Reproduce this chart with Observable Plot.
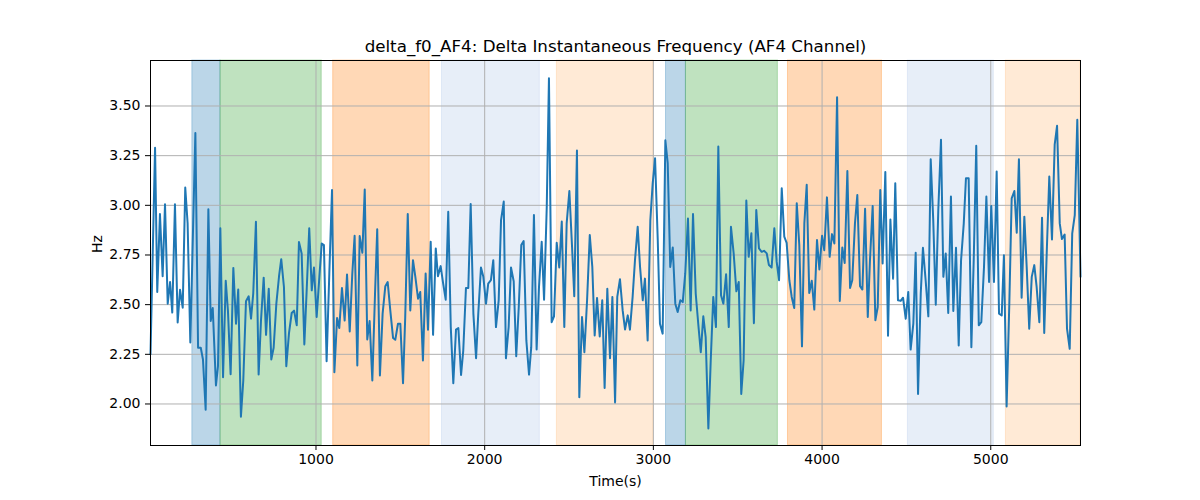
<!DOCTYPE html>
<html>
<head>
<meta charset="utf-8">
<script src="https://cdn.jsdelivr.net/npm/d3@7"></script>
<script src="https://cdn.jsdelivr.net/npm/@observablehq/plot@0.6"></script>
<style>
  html, body { margin: 0; padding: 0; background: white; overflow: hidden; }
  #chart svg { display: block; }
</style>
</head>
<body>
<div id="chart"></div>
<script>
const titleText = "delta_f0_AF4: Delta Instantaneous Frequency (AF4 Channel)";
const xLabel = "Time(s)";
const yLabel = "Hz";
const xTicks = [1000, 2000, 3000, 4000, 5000];
const yTicks = [2.00, 2.25, 2.50, 2.75, 3.00, 3.25, 3.50];

const time = [
  19,46,59,75,91,105,121,135,148,164,180,194,210,225,239,255,285,301,317,330,346,362,376,388,407,419,433,449,465,478,494,510,526,539,555,569,585,601,615,628,644,660,674,690,704,720,735,749,765,781,794,810,824,840,856,870,886,899,915,931,945,960,
  975,988,1004,1020,1034,1047,1063,1079,1095,1109,1125,1138,1154,1170,1184,1200,1215,1229,1245,1259,1275,1289,1304,1318,1334,1350,1363,1379,1395,1411,1425,1440,1457,1470,1486,1500,1516,1529,1544,1559,1575,1589,1605,1618,1634,1650,1664,1680,1694,1710,1723,1739,1753,1769,1784,1799,1814,1830,1844,1860,1873,1889,1903,
  1917,1933,1949,1962,1978,1992,2008,2021,2037,2051,2067,2083,2097,2113,2126,2142,2156,2172,2187,2202,2217,2231,2247,2263,2276,2292,2308,2322,2338,2352,2368,2381,2397,2411,2427,2442,2457,2472,2486,2502,2518,2531,2547,2561,2577,2591,2607,2623,2638,2652,2666,2682,2697,2711,2727,2743,2757,2773,2786,2802,2818,2832,2848,2861,
  2877,2891,2907,2921,2937,2950,2966,2982,2996,3010,3026,3039,3055,3071,3085,3100,3115,3130,3144,3160,3174,3189,3205,3221,3235,3251,3266,3281,3296,3310,3326,3340,3355,3371,3385,3401,3415,3431,3447,3460,3476,3492,3506,3521,3535,3551,3565,3581,3596,3610,3626,3642,3656,3672,3685,3701,3717,3731,3745,3761,3776,3790,
  3806,3820,3835,3850,3865,3881,3895,3909,3924,3939,3954,3970,3984,4000,4013,4029,4045,4059,4073,4089,4105,4120,4134,4150,4166,4179,4195,4209,4225,4239,4255,4271,4284,4300,4316,4330,4345,4359,4375,4391,4405,4421,4434,4450,4466,4480,4496,4511,4525,4541,4555,4569,4585,4598,4614,4630,4644,4659,4674,4689,4705,4719,4733,4748,
  4764,4778,4794,4810,4824,4840,4853,4869,4885,4899,4914,4929,4944,4960,4974,4990,5003,5019,5035,5049,5065,5078,5094,5110,5124,5140,5154,5167,5183,5199,5213,5228,5243,5258,5272,5288,5304,5317,5333,5347,5363,5379,5393,5409,5422,5438,5452,5468,5483,5498,5513,5532
];

const hz = [
  2.25,3.29,2.564,2.956,2.643,3.005,2.505,2.614,2.46,3.005,2.41,2.575,2.485,3.09,2.91,2.31,3.364,2.283,2.283,2.224,1.971,2.98,2.418,2.483,2.093,2.19,2.884,2.135,2.62,2.47,2.15,2.685,2.404,2.576,1.936,2.118,2.517,2.542,2.43,2.556,2.917,2.148,2.42,2.636,2.348,2.58,2.224,2.283,2.505,2.643,2.729,2.59,2.19,2.357,2.458,2.47,2.396,2.815,2.758,2.30,2.576,2.884,
  2.572,2.687,2.438,2.64,2.808,2.80,2.215,2.657,3.077,2.16,2.433,2.382,2.584,2.42,2.652,2.365,2.652,2.847,2.194,2.845,2.761,3.08,2.325,2.418,2.118,2.556,2.879,2.143,2.455,2.593,2.614,2.475,2.332,2.323,2.404,2.404,2.104,2.438,2.956,2.471,2.724,2.64,2.53,2.564,2.219,2.657,2.374,2.817,2.348,2.783,2.643,2.694,2.611,2.525,2.968,2.387,2.104,2.374,2.382,2.146,2.269,2.584,2.584,
  3.007,2.455,2.23,2.455,2.687,2.64,2.505,2.606,2.623,2.724,2.387,2.522,2.926,3.019,2.23,2.387,2.687,2.618,2.24,2.488,2.80,2.82,2.32,2.148,2.286,2.951,2.274,2.589,2.817,2.525,2.993,3.64,2.412,2.441,2.811,2.687,2.918,2.387,2.909,3.072,2.791,2.542,3.276,2.034,2.438,2.261,2.522,2.85,2.69,2.345,2.534,2.34,2.522,2.08,2.58,2.23,2.539,2.008,2.539,2.628,2.471,2.375,2.446,2.374,
  2.539,2.724,2.892,2.69,2.522,2.631,2.32,2.926,3.111,3.237,2.825,2.404,2.354,3.327,3.212,2.69,2.788,2.505,2.463,2.522,2.513,2.657,2.934,2.471,2.956,2.556,2.404,2.261,2.441,2.337,1.877,2.219,2.539,2.387,3.296,2.547,2.505,2.653,2.387,2.892,2.758,2.567,2.614,2.05,2.219,3.024,2.741,2.859,2.407,2.976,2.783,2.766,2.771,2.758,2.699,2.687,2.884,2.715,2.623,3.086,2.842,2.811,
  2.623,2.539,2.483,3.01,2.80,2.29,2.909,3.103,2.559,2.62,2.475,2.825,2.677,2.847,2.774,3.04,2.741,2.855,2.808,3.544,2.519,2.788,2.71,3.173,2.584,2.623,2.909,3.052,2.593,2.576,2.983,2.438,2.724,2.997,2.421,2.488,3.077,2.707,3.168,2.343,2.929,2.631,3.111,2.522,2.519,2.535,2.429,2.564,2.274,2.404,2.761,2.05,2.556,2.786,2.623,2.441,3.232,2.926,2.50,2.976,3.33,2.64,2.758,2.458,
  3.044,2.468,2.786,2.295,2.724,2.909,3.136,3.136,2.286,2.724,3.30,2.396,2.412,2.69,3.044,2.614,2.997,2.614,3.17,2.455,2.446,2.749,1.987,2.505,3.035,3.072,2.862,3.232,2.535,2.943,2.69,2.379,2.64,2.699,2.589,2.412,2.938,2.357,2.791,3.145,2.828,3.305,3.40,2.909,2.83,2.853,2.379,2.278,2.859,2.951,3.431,2.64
];

// shaded segments (time ranges) and their category
const spanStart = [267, 434, 1102, 1747, 2428, 3075, 3193, 3798, 4509, 5090];
const spanEnd   = [434, 1034, 1674, 2327, 3000, 3193, 3738, 4355, 5018, 5532];
const spanKind  = ["A", "B", "C", "D", "E", "A", "B", "C", "D", "E"];

const kindStyle = {
  A: {fill: "#1f77b4", opacity: 0.3},
  B: {fill: "#2ca02c", opacity: 0.3},
  C: {fill: "#ff7f0e", opacity: 0.3},
  D: {fill: "#aec7e8", opacity: 0.3},
  E: {fill: "#ffbb78", opacity: 0.3}
};

const series = time.map((t, i) => ({t, v: hz[i]}));
const spans = spanStart.map((s, i) => ({x1: s, x2: spanEnd[i], kind: spanKind[i]}));

const spanMarks = Object.keys(kindStyle).map(k =>
  Plot.rect(spans.filter(d => d.kind === k), {
    x1: "x1", x2: "x2",
    fill: kindStyle[k].fill, fillOpacity: kindStyle[k].opacity,
    stroke: kindStyle[k].fill, strokeOpacity: kindStyle[k].opacity, strokeWidth: 1
  })
);

const chart = Plot.plot({
  width: 1200,
  height: 500,
  marginLeft: 150,
  marginRight: 120,
  marginTop: 60,
  marginBottom: 55,
  style: {fontFamily: "DejaVu Sans", fontSize: "14px", color: "black", background: "white"},
  x: {domain: [19, 5532]},
  y: {domain: [1.791, 3.729]},
  marks: [
    ...spanMarks,
    Plot.gridX(xTicks, {stroke: "#b0b0b0", strokeOpacity: 1, strokeWidth: 1}),
    Plot.gridY(yTicks, {stroke: "#b0b0b0", strokeOpacity: 1, strokeWidth: 1}),
    Plot.line(series, {x: "t", y: "v", stroke: "#1f77b4", strokeWidth: 2}),
    Plot.frame({stroke: "black", strokeWidth: 1}),
    Plot.axisX({ticks: xTicks, tickFormat: d3.format("d"), tickSize: 5, tickPadding: 4, label: null, fontSize: 14}),
    Plot.axisY({ticks: yTicks, tickFormat: d3.format(".2f"), tickSize: 5, tickPadding: 5, label: null, fontSize: 14}),
    Plot.text([titleText], {text: d => d, frameAnchor: "top", lineAnchor: "bottom", dy: -9, fontSize: 16.7}),
    Plot.text([xLabel], {text: d => d, frameAnchor: "bottom", lineAnchor: "middle", dy: 36, fontSize: 14}),
    Plot.text([yLabel], {text: d => d, frameAnchor: "left", lineAnchor: "middle", dx: -53, rotate: -90, fontSize: 14})
  ]
});
document.getElementById("chart").appendChild(chart);
</script>
</body>
</html>
